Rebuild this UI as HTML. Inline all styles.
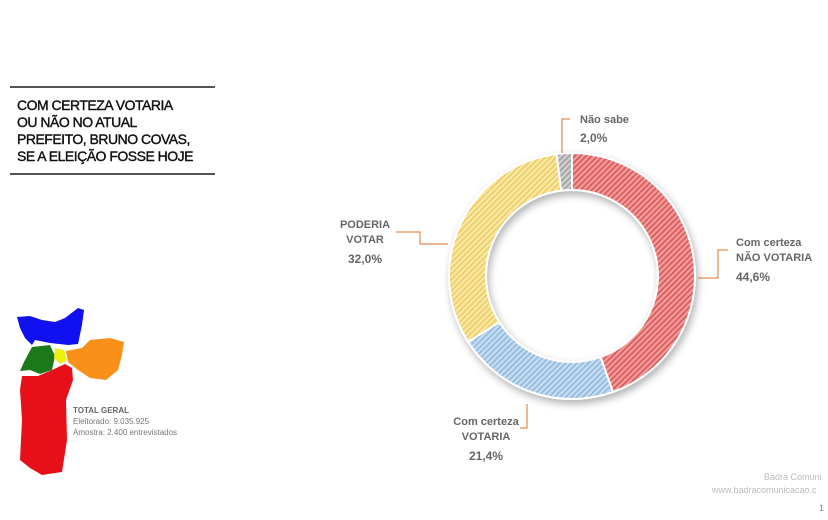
<!DOCTYPE html>
<html><head><meta charset="utf-8">
<style>
body{margin:0;width:828px;height:520px;background:#fff;overflow:hidden;font-family:"Liberation Sans",sans-serif;position:relative}
.t{position:absolute}
</style></head><body>
<div class="t" style="left:10px;top:86px;width:205px;height:1.5px;background:#555"></div>
<div class="t" style="left:17px;top:97px;font-size:14px;line-height:17px;color:#111;letter-spacing:-0.5px;-webkit-text-stroke:0.4px #111">COM CERTEZA VOTARIA<br>OU NÃO NO ATUAL<br>PREFEITO, BRUNO COVAS,<br>SE A ELEIÇÃO FOSSE HOJE</div>
<div class="t" style="left:10px;top:173px;width:205px;height:1.5px;background:#555"></div>

<svg class="t" style="left:0;top:300px" width="140" height="180" viewBox="0 0 140 180">
<path fill="#1010f0" d="M17,17 L30,16 L42,20 L55,22 L65,18 L78,8 L84,10 L82,25 L78,44 L68,45 L50,43 L35,40 L32,45 L25,38 L20,28 Z"/>
<path fill="#f8901a" d="M66,51 L82,48 L90,40 L110,38 L124,42 L122,55 L118,70 L106,80 L90,78 L78,70 L68,62 Z"/>
<path fill="#1a7a1a" d="M32,47 L50,45 L55,56 L52,70 L40,74 L30,70 L20,71 L24,62 Z"/>
<path fill="#f0f010" d="M55,48 L64,50 L67,60 L60,64 L54,58 Z"/>
<path fill="#e81018" d="M52,70 L65,64 L72,68 L73,80 L66,100 L67,140 L62,172 L42,175 L30,168 L20,160 L22,120 L20,90 L22,76 L38,76 Z"/>
</svg>
<div class="t" style="left:73px;top:405px;font-size:8px;line-height:11px;color:#777">
<b style="color:#666">TOTAL GERAL</b><br>Eleitorado: 9.035.925<br>Amostra: 2.400 entrevistados</div>

<svg class="t" id="chart" style="left:0;top:0" width="828" height="520">
<defs>
<filter id="sh" x="-20%" y="-20%" width="140%" height="140%"><feDropShadow dx="2" dy="4" stdDeviation="4" flood-color="#000" flood-opacity="0.3"/></filter>
<pattern id="p0" width="4" height="4" patternUnits="userSpaceOnUse" patternTransform="rotate(45)"><rect width="4" height="4" fill="#f29a9a"/><rect width="1.6" height="4" fill="#d85858"/></pattern>
<pattern id="p1" width="4" height="4" patternUnits="userSpaceOnUse" patternTransform="rotate(45)"><rect width="4" height="4" fill="#c4dcf0"/><rect width="1.6" height="4" fill="#92b8dc"/></pattern>
<pattern id="p2" width="4" height="4" patternUnits="userSpaceOnUse" patternTransform="rotate(45)"><rect width="4" height="4" fill="#fbe7a0"/><rect width="1.6" height="4" fill="#e9cd6a"/></pattern>
<pattern id="p3" width="4" height="4" patternUnits="userSpaceOnUse" patternTransform="rotate(45)"><rect width="4" height="4" fill="#cfcfcf"/><rect width="1.6" height="4" fill="#a0a0a0"/></pattern>
</defs>
<g id="slices" filter="url(#sh)"></g>
<g id="labels" font-size="11" font-weight="bold" fill="#666"></g>
</svg>
<div class="t" style="left:764px;top:472px;font-size:9px;color:#bbb;white-space:nowrap">Badra Comuni</div>
<div class="t" style="left:712px;top:485px;font-size:9px;color:#bbb;white-space:nowrap">www.badracomunicacao.c</div>
<div class="t" style="left:819px;top:503px;font-size:9px;color:#888">1</div>

<script>
const categories=["Com certeza NÃO VOTARIA","Com certeza VOTARIA","PODERIA VOTAR","Não sabe"];
const values=[44.6,21.4,32.0,2.0];
const valueLabels=["44,6%","21,4%","32,0%","2,0%"];
const NS="http://www.w3.org/2000/svg";
const cx=572,cy=276,R=123,r=86;
const total=values.reduce((a,b)=>a+b,0);
function pt(a,rad){return [cx+rad*Math.sin(a),cy-rad*Math.cos(a)];}
let acc=0;const g=document.getElementById('slices');
values.forEach((v,i)=>{
 const a0=acc/total*2*Math.PI;acc+=v;const a1=acc/total*2*Math.PI;
 const lg=(a1-a0)>Math.PI?1:0;
 const [x0,y0]=pt(a0,R),[x1,y1]=pt(a1,R),[x2,y2]=pt(a1,r),[x3,y3]=pt(a0,r);
 const p=document.createElementNS(NS,'path');
 p.setAttribute('d',`M${x0},${y0}A${R},${R} 0 ${lg} 1 ${x1},${y1}L${x2},${y2}A${r},${r} 0 ${lg} 0 ${x3},${y3}Z`);
 p.setAttribute('fill',`url(#p${i})`);p.setAttribute('stroke','#fff');p.setAttribute('stroke-width','2');
 
 
 g.appendChild(p);
});
const L=document.getElementById('labels');
const leaders=[
 {line:"M698,278 L718,278 L718,250 L728,250",tx:[[736,246,"Com certeza"],[736,261,"NÃO VOTARIA"],[736,281,valueLabels[0]]],anchor:"start"},
 {line:"M527,404 L527,428 L520,428",tx:[[486,425,"Com certeza"],[486,440,"VOTARIA"],[486,460,valueLabels[1]]],anchor:"middle"},
 {line:"M448,244 L420,244 L420,232 L396,232",tx:[[365,228,"PODERIA"],[365,243,"VOTAR"],[365,263,valueLabels[2]]],anchor:"middle"},
 {line:"M562,153 L562,119 L570,119",tx:[[580,123,"Não sabe"],[580,142,valueLabels[3]]],anchor:"start"}
];
leaders.forEach((o,i)=>{
 const p=document.createElementNS(NS,'path');p.setAttribute('d',o.line);p.setAttribute('fill','none');p.setAttribute('stroke','#d8742c');p.setAttribute('stroke-width','1');
 
 
 L.appendChild(p);
 o.tx.forEach((t,j)=>{const e=document.createElementNS(NS,'text');e.setAttribute('x',t[0]);e.setAttribute('y',t[1]);e.setAttribute('text-anchor',o.anchor);
 if(j==o.tx.length-1)e.setAttribute('font-size','12');e.textContent=t[2];
 
 
 L.appendChild(e);});
});
</script>
</body></html>
